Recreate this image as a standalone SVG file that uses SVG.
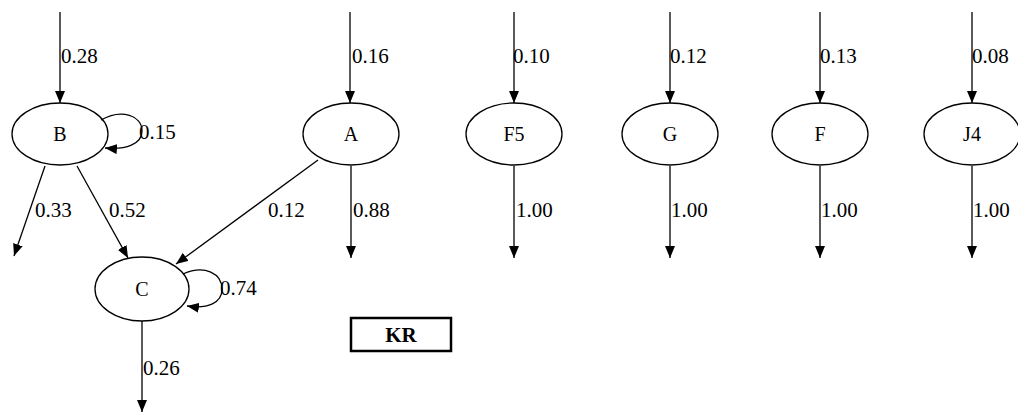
<svg xmlns="http://www.w3.org/2000/svg" width="1018" height="417" viewBox="0 0 1018 417">
<style>
.n ellipse{fill:none;stroke:#000;stroke-width:1.3}
.n text,.lbl text{font-family:"Liberation Serif","Times New Roman",serif;font-size:20px;fill:#000}
.lbl text{font-size:21px}
.n text{text-anchor:middle}
.e path{fill:none;stroke:#000;stroke-width:1.3;marker-end:url(#ah)}
</style>
<defs>
<marker id="ah" markerUnits="userSpaceOnUse" markerWidth="13" markerHeight="10" refX="12" refY="5" orient="auto">
<path d="M0,0 L12,5 L0,10 z" fill="#000"/>
</marker>
</defs>
<rect width="1018" height="417" fill="#fff"/>
<g id="connectors" class="e">
<path d="M60,12 L60,103"/>
<path d="M350,12 L350,103"/>
<path d="M514,12 L514,103"/>
<path d="M670,12 L670,103"/>
<path d="M820,12 L820,103"/>
<path d="M972,12 L972,103"/>
<path d="M101,120 C122,108 142,116 142,131 C142,144 126,150 105,148"/>
<path d="M45,166 L14,256"/>
<path d="M77,166 L128,258"/>
<path d="M318,160 L176,264"/>
<path d="M351,166 L351,258"/>
<path d="M514,166 L514,258"/>
<path d="M670,166 L670,258"/>
<path d="M820,166 L820,258"/>
<path d="M972,166 L972,258"/>
<path d="M183,274 C205,264 222,274 222,289 C222,303 208,309 187,306"/>
<path d="M142,321 L142,412"/>
</g>
<g class="lbl">
<text x="61" y="63">0.28</text>
<text x="139" y="139">0.15</text>
<text x="35" y="217">0.33</text>
<text x="109" y="217">0.52</text>
<text x="352" y="63">0.16</text>
<text x="268" y="217">0.12</text>
<text x="353" y="217">0.88</text>
<text x="513" y="63">0.10</text>
<text x="516" y="217">1.00</text>
<text x="670" y="63">0.12</text>
<text x="671" y="217">1.00</text>
<text x="820" y="63">0.13</text>
<text x="821" y="217">1.00</text>
<text x="972" y="63">0.08</text>
<text x="973" y="217">1.00</text>
<text x="220" y="295">0.74</text>
<text x="143" y="375">0.26</text>
</g>
<g id="node-B" class="n"><ellipse cx="60" cy="134" rx="48" ry="31"/><text x="60" y="141">B</text></g>
<g id="node-A" class="n"><ellipse cx="351" cy="134" rx="48" ry="31"/><text x="351" y="141">A</text></g>
<g id="node-F5" class="n"><ellipse cx="514" cy="134" rx="48" ry="31"/><text x="514" y="141">F5</text></g>
<g id="node-G" class="n"><ellipse cx="670" cy="134" rx="48" ry="31"/><text x="670" y="141">G</text></g>
<g id="node-F" class="n"><ellipse cx="820" cy="134" rx="48" ry="31"/><text x="820" y="141">F</text></g>
<g id="node-J4" class="n"><ellipse cx="972" cy="134" rx="48" ry="31"/><text x="972" y="141">J4</text></g>
<g id="node-C" class="n"><ellipse cx="142" cy="289" rx="47" ry="32"/><text x="142" y="296">C</text></g>
<g id="legend-KR"><rect x="351" y="318" width="100" height="33" fill="none" stroke="#000" stroke-width="2.5"/><text x="401" y="342" text-anchor="middle" font-family="Liberation Serif, Times New Roman, serif" font-size="21" font-weight="bold">KR</text></g>
</svg>
